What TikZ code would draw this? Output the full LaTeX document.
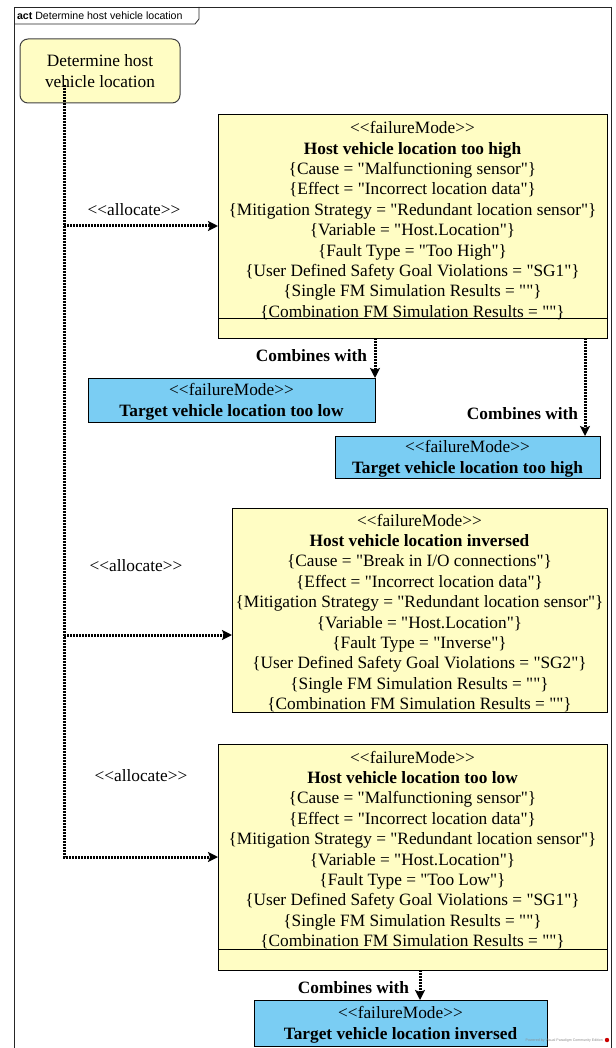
\documentclass[tikz,border=0pt]{standalone}
\usepackage{fontspec}
\setmainfont{Liberation Serif}[Ligatures=TeXOff]
\newfontfamily\uisans{Liberation Sans}
\usetikzlibrary{arrows.meta, positioning, calc}
\definecolor{fmyellow}{RGB}{255,253,196}
\definecolor{fmblue}{RGB}{122,205,243}

\begin{document}
\begin{tikzpicture}[x=1pt, y=-1pt,
    every node/.style={inner sep=0pt, outer sep=0pt, font=\fontsize{17.3}{20.4}\selectfont},
    frame/.style={draw=black!85, line width=0.8pt},
    actbox/.style={draw=black!75, fill=fmyellow, rounded corners=8pt, line width=1pt, align=center, minimum width=160, minimum height=64},
    fmbox/.style={draw=black, fill=fmyellow, line width=0.9pt, anchor=north west},
    fmtext/.style={align=center},
    tgtbox/.style={draw=black, fill=fmblue, line width=0.9pt, align=center, anchor=north west},
    alloc/.style={line width=3pt, dash pattern=on 1.6pt off 1.4pt, -{Stealth[length=10pt, width=10pt, inset=2pt]}},
    cbl/.style={font=\bfseries\fontsize{17.3}{20.4}\selectfont}]
        \useasboundingbox (0,0) rectangle (615,1048);

        % Frame and tab
        \draw[frame] (14,1048) -- (14,7) -- (611,7) -- (611,1048);
        \draw[frame] (14,24) -- (195,24) -- (199,19) -- (199,7);
        \node[anchor=west, font=\uisans\fontsize{10.6}{12}\selectfont] (frametitle) at (17,15.5) {\textbf{act} Determine host vehicle location};

        % Action
        \node[actbox] (act) at (100,71) {Determine host\\vehicle location};

        % Failure modes of the host vehicle
        \node[fmbox, minimum width=389, minimum height=204] (high) at (218,114) {};
        \node[fmbox, minimum width=389, minimum height=20, below=0pt of high] (highbot) {};
        \node[fmtext] (hightxt) at ($(high.center)+(0,4.5)$) {<<failureMode>>\\
            \textbf{Host vehicle location too high}\\
            \{Cause = "Malfunctioning sensor"\}\\
            \{Effect = "Incorrect location data"\}\\
            \{Mitigation Strategy = "Redundant location sensor"\}\\
            \{Variable = "Host.Location"\}\\
            \{Fault Type = "Too High"\}\\
            \{User Defined Safety Goal Violations = "SG1"\}\\
            \{Single FM Simulation Results = ""\}\\
            \{Combination FM Simulation Results = ""\}};

        \node[fmbox, minimum width=375, minimum height=204] (inv) at (232,508) {};
        \node[fmtext] (invtxt) at ($(inv.center)+(0,3)$) {<<failureMode>>\\
            \textbf{Host vehicle location inversed}\\
            \{Cause = "Break in I/O connections"\}\\
            \{Effect = "Incorrect location data"\}\\
            \{Mitigation Strategy = "Redundant location sensor"\}\\
            \{Variable = "Host.Location"\}\\
            \{Fault Type = "Inverse"\}\\
            \{User Defined Safety Goal Violations = "SG2"\}\\
            \{Single FM Simulation Results = ""\}\\
            \{Combination FM Simulation Results = ""\}};

        \node[fmbox, minimum width=389, minimum height=205] (low) at (218,744) {};
        \node[fmbox, minimum width=389, minimum height=21, below=0pt of low] (lowbot) {};
        \node[fmtext] (lowtxt) at ($(low.center)+(0,3.5)$) {<<failureMode>>\\
            \textbf{Host vehicle location too low}\\
            \{Cause = "Malfunctioning sensor"\}\\
            \{Effect = "Incorrect location data"\}\\
            \{Mitigation Strategy = "Redundant location sensor"\}\\
            \{Variable = "Host.Location"\}\\
            \{Fault Type = "Too Low"\}\\
            \{User Defined Safety Goal Violations = "SG1"\}\\
            \{Single FM Simulation Results = ""\}\\
            \{Combination FM Simulation Results = ""\}};

        % Failure modes of the target vehicle
        \node[tgtbox, minimum width=287, minimum height=44] (tlow) at (88,378) {\rule{0pt}{16pt}<<failureMode>>\\ \textbf{Target vehicle location too low}};
        \node[tgtbox, minimum width=265, minimum height=42] (thigh) at (335,436) {\rule{0pt}{16pt}<<failureMode>>\\ \textbf{Target vehicle location too high}};
        \node[tgtbox, minimum width=293, minimum height=46] (tinv) at (254,1000) {\rule{0pt}{16pt}<<failureMode>>\\ \textbf{Target vehicle location inversed}};

        % Allocate connectors
        \coordinate (trunk) at (64,85);
        \coordinate (highpt) at ($(high.north west)!0.5!(highbot.south west)$);
        \coordinate (invpt) at ($(inv.west)+(0,25)$);
        \coordinate (lowpt) at ($(low.north west)!0.5!(lowbot.south west)$);
        \draw[alloc] (trunk) |- (lowpt);
        \draw[alloc] (trunk |- highpt) -- (highpt);
        \draw[alloc] (trunk |- invpt) -- (invpt);
        \foreach \n/\x/\y in {1/134/210, 2/136/566, 3/141/776} {
            \node (alloc\n) at (\x,\y) {<<allocate>>};
        }

        % Combines with
        \coordinate (thighin) at ($(thigh.north east)+(-15,0)$);
        \coordinate (tinvin) at ($(tinv.north)+(19.5,0)$);
        \draw[alloc] (highbot.south -| tlow.north east) -- (tlow.north east) node[cbl, pos=0.43, left=8pt] (comb1) {Combines with};
        \draw[alloc] (highbot.south -| thighin) -- (thighin) node[cbl, pos=0.77, left=7pt] (comb2) {Combines with};
        \draw[alloc] (lowbot.south -| tinvin) -- (tinvin) node[cbl, pos=0.57, left=11pt] (comb3) {Combines with};

        % Watermark
        \node[anchor=east, text=black!45, font=\uisans\fontsize{3.6}{4}\selectfont] (wm) at (603,1041) {Powered by Visual Paradigm Community Edition};
        \fill[red!80!black] (607,1040) circle (2.2);
    \end{tikzpicture}
\end{document}
